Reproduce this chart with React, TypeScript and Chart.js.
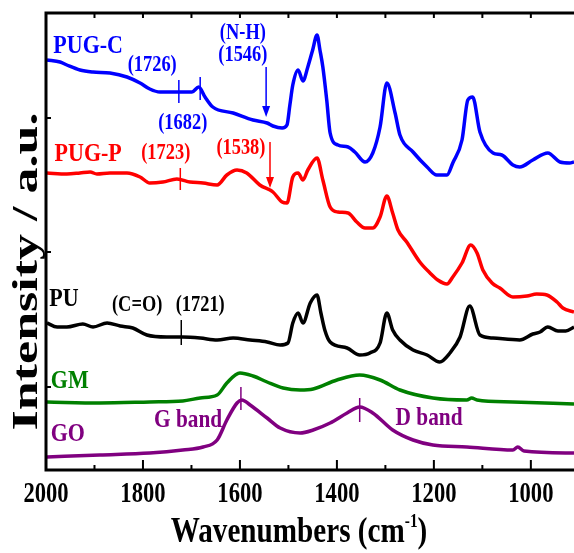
import React, { useEffect, useRef } from 'react';
import { Chart, registerables } from 'chart.js';

Chart.register(...registerables);

// ---- axis ranges & ticks ----
const X_MIN = 911;
const X_MAX = 2000;
const Y_MIN = -1;
const Y_MAX = 456;
const xMajorTicks = [2000, 1800, 1600, 1400, 1200, 1000];
const xMinorTicks = [1900, 1700, 1500, 1300, 1100];
const xTopTicks = [2000, 1900, 1800, 1700, 1600, 1500, 1400, 1300, 1200, 1100, 1000];
const yTicks = [82, 217, 351];

// ---- series (wavenumber, intensity a.u. with offsets) ----
const pugcWn = [1998, 1971, 1957, 1930, 1903, 1868, 1833, 1806, 1786, 1765, 1730, 1699, 1685, 1672, 1656, 1614, 1573, 1544, 1532, 1513, 1503, 1497, 1491, 1480, 1470, 1460, 1450, 1441, 1435, 1429, 1421, 1414, 1398, 1377, 1363, 1342, 1326, 1311, 1297, 1280, 1270, 1243, 1214, 1194, 1173, 1161, 1142, 1130, 1120, 1105, 1078, 1060, 1037, 1023, 996, 965, 940, 920, 911];
const pugcI = [409, 407, 404, 399, 397, 396, 392, 386, 380, 377, 377, 377, 382, 372, 362, 356, 349, 346, 343, 341, 344, 364, 384, 399, 388, 402, 419, 434, 419, 402, 369, 336, 324, 322, 317, 307, 316, 342, 386, 356, 334, 317, 302, 294, 294, 306, 329, 369, 372, 337, 316, 314, 304, 302, 309, 316, 307, 306, 307];

const pugpWn = [1998, 1957, 1930, 1909, 1895, 1868, 1833, 1806, 1786, 1759, 1730, 1703, 1676, 1647, 1627, 1606, 1586, 1559, 1532, 1513, 1503, 1491, 1480, 1470, 1460, 1441, 1429, 1414, 1398, 1377, 1359, 1342, 1326, 1311, 1297, 1285, 1274, 1256, 1229, 1208, 1192, 1173, 1161, 1142, 1124, 1111, 1099, 1080, 1064, 1037, 1008, 988, 967, 946, 934, 911];
const pugpI = [296, 295, 296, 297, 295, 296, 296, 292, 286, 287, 290, 287, 286, 284, 294, 299, 296, 284, 277, 267, 266, 292, 296, 289, 299, 311, 289, 262, 257, 256, 247, 241, 241, 252, 273, 256, 239, 227, 207, 196, 189, 185, 192, 206, 224, 216, 199, 186, 181, 172, 173, 175, 174, 167, 161, 157];

const puWn = [1998, 1977, 1957, 1924, 1903, 1874, 1847, 1821, 1792, 1751, 1718, 1682, 1647, 1614, 1579, 1544, 1517, 1501, 1491, 1480, 1470, 1455, 1441, 1433, 1425, 1414, 1379, 1353, 1332, 1311, 1297, 1285, 1270, 1243, 1214, 1188, 1167, 1146, 1126, 1105, 1078, 1023, 996, 981, 965, 944, 928, 911];
const puI = [146, 142, 142, 145, 142, 146, 143, 141, 134, 132, 132, 131, 129, 131, 129, 127, 124, 126, 146, 156, 146, 166, 174, 156, 139, 127, 121, 114, 116, 126, 156, 139, 129, 119, 114, 107, 116, 132, 163, 134, 131, 129, 135, 137, 142, 138, 138, 142];

const gmWn = [1998, 1889, 1786, 1718, 1682, 1647, 1627, 1600, 1573, 1544, 1511, 1476, 1449, 1400, 1353, 1311, 1270, 1202, 1132, 1122, 1111, 1037, 911];
const gmI = [67, 66, 67, 68, 71, 74, 86, 96, 93, 87, 81, 79, 80, 89, 94, 89, 79, 71, 69, 71, 69, 67, 65];

const goWn = [1998, 1889, 1786, 1718, 1676, 1647, 1627, 1606, 1596, 1579, 1544, 1517, 1476, 1449, 1414, 1379, 1353, 1326, 1285, 1243, 1202, 1132, 1037, 1027, 1014, 911];
const goI = [12, 14, 16, 19, 22, 29, 49, 66, 69, 64, 51, 41, 36, 39, 46, 56, 62, 56, 39, 29, 24, 22, 19, 22, 18, 16];

const BLUE = '#0000ff';
const RED = '#ff0000';
const BLACK = '#000000';
const GREEN = '#008000';
const PURPLE = '#800080';

const seriesDefs = [
  { name: 'PUG-C', wn: pugcWn, vals: pugcI, color: BLUE },
  { name: 'PUG-P', wn: pugpWn, vals: pugpI, color: RED },
  { name: 'PU', wn: puWn, vals: puI, color: BLACK },
  { name: 'GM', wn: gmWn, vals: gmI, color: GREEN },
  { name: 'GO', wn: goWn, vals: goI, color: PURPLE },
];

// ---- annotations (anchored in data coordinates) ----
const annotationTexts = [
  { text: 'PUG-C', wn: 1913, v: 422, color: BLUE, kind: 'series' },
  { text: '(1726)', wn: 1781, v: 404, color: BLUE, kind: 'num' },
  { text: '(1682)', wn: 1718, v: 346, color: BLUE, kind: 'num' },
  { text: '(N-H)', wn: 1594, v: 436, color: BLUE, kind: 'num' },
  { text: '(1546)', wn: 1594, v: 414, color: BLUE, kind: 'num' },
  { text: 'PUG-P', wn: 1913, v: 314, color: RED, kind: 'series' },
  { text: '(1723)', wn: 1753, v: 316, color: RED, kind: 'num' },
  { text: '(1538)', wn: 1598, v: 321, color: RED, kind: 'num' },
  { text: 'PU', wn: 1963, v: 169, color: BLACK, kind: 'series' },
  { text: '(C=O)', wn: 1812, v: 164, color: BLACK, kind: 'num' },
  { text: '(1721)', wn: 1682, v: 164, color: BLACK, kind: 'num' },
  { text: 'GM', wn: 1951, v: 87, color: GREEN, kind: 'series' },
  { text: 'GO', wn: 1955, v: 34, color: PURPLE, kind: 'series' },
  { text: 'G band', wn: 1707, v: 49, color: PURPLE, kind: 'band' },
  { text: 'D band', wn: 1210, v: 51, color: PURPLE, kind: 'band' },
];
const markTicks = [
  { wn: 1726, v1: 389, v2: 366, color: BLUE },
  { wn: 1682, v1: 392, v2: 369, color: BLUE },
  { wn: 1723, v1: 301, v2: 279, color: RED },
  { wn: 1721, v1: 149, v2: 124, color: BLACK },
  { wn: 1598, v1: 82, v2: 59, color: PURPLE },
  { wn: 1353, v1: 71, v2: 47, color: PURPLE },
];
const arrows = [
  { wn: 1546, v1: 402, v2: 352, color: BLUE },
  { wn: 1538, v1: 327, v2: 281, color: RED },
];

const SERIF = '"Liberation Serif", "Times New Roman", Times, serif';
const textStyles: Record<string, { font: string; squish: number }> = {
  series: { font: `bold 25px ${SERIF}`, squish: 0.88 },
  num: { font: `bold 23px ${SERIF}`, squish: 0.8 },
  band: { font: `bold 26px ${SERIF}`, squish: 0.82 },
};

function squishText(ctx: CanvasRenderingContext2D, text: string, x: number, y: number, font: string, color: string, s: number, align: CanvasTextAlign = 'center', baseline: CanvasTextBaseline = 'middle') {
  ctx.save();
  ctx.font = font;
  ctx.fillStyle = color;
  ctx.textAlign = align;
  ctx.textBaseline = baseline;
  ctx.translate(x, y);
  ctx.scale(s, 1);
  ctx.fillText(text, 0, 0);
  ctx.restore();
}

const decorPlugin = {
  id: 'decor',
  afterDatasetsDraw(chart: any) {
    const ctx: CanvasRenderingContext2D = chart.ctx;
    const xs = chart.scales.x;
    const ys = chart.scales.y;
    const { left, right, top, bottom } = chart.chartArea;
    ctx.save();

    // marker ticks on curves
    ctx.lineWidth = 1.5;
    markTicks.forEach((m) => {
      const x = xs.getPixelForValue(m.wn);
      ctx.strokeStyle = m.color;
      ctx.beginPath();
      ctx.moveTo(x, ys.getPixelForValue(m.v1));
      ctx.lineTo(x, ys.getPixelForValue(m.v2));
      ctx.stroke();
    });
    // arrows
    arrows.forEach((a) => {
      const x = xs.getPixelForValue(a.wn);
      const y1 = ys.getPixelForValue(a.v1);
      const y2 = ys.getPixelForValue(a.v2);
      ctx.strokeStyle = a.color;
      ctx.fillStyle = a.color;
      ctx.lineWidth = 1.5;
      ctx.beginPath();
      ctx.moveTo(x, y1);
      ctx.lineTo(x, y2 - 8);
      ctx.stroke();
      ctx.beginPath();
      ctx.moveTo(x - 4, y2 - 11);
      ctx.lineTo(x + 4, y2 - 11);
      ctx.lineTo(x, y2);
      ctx.closePath();
      ctx.fill();
    });
    // annotation texts
    annotationTexts.forEach((t) => {
      const st = textStyles[t.kind];
      squishText(ctx, t.text, xs.getPixelForValue(t.wn), ys.getPixelForValue(t.v), st.font, t.color, st.squish);
    });

    // frame
    ctx.strokeStyle = '#000';
    ctx.lineWidth = 3;
    ctx.beginPath();
    ctx.moveTo(left, top);
    ctx.lineTo(right, top);
    ctx.moveTo(left, top - 1.5);
    ctx.lineTo(left, bottom + 1.5);
    ctx.moveTo(left, bottom);
    ctx.lineTo(right, bottom);
    ctx.stroke();

    ctx.lineWidth = 2;
    ctx.beginPath();
    xMajorTicks.forEach((v) => {
      const x = xs.getPixelForValue(v);
      ctx.moveTo(x, bottom);
      ctx.lineTo(x, bottom - 10);
    });
    xMinorTicks.forEach((v) => {
      const x = xs.getPixelForValue(v);
      ctx.moveTo(x, bottom);
      ctx.lineTo(x, bottom - 5);
    });
    xTopTicks.forEach((v) => {
      const x = xs.getPixelForValue(v);
      ctx.moveTo(x, top);
      ctx.lineTo(x, top + 5);
    });
    yTicks.forEach((v) => {
      const y = ys.getPixelForValue(v);
      ctx.moveTo(left, y);
      ctx.lineTo(left + 5, y);
    });
    ctx.stroke();

    // tick labels
    xMajorTicks.forEach((v) => {
      squishText(ctx, String(v), xs.getPixelForValue(v), bottom + 32, `bold 29px ${SERIF}`, '#000', 0.78, 'center', 'alphabetic');
    });

    // x title with superscript
    const mainFont = `bold 36px ${SERIF}`;
    const supFont = `bold 19px ${SERIF}`;
    const s = 0.81;
    ctx.font = mainFont;
    const w1 = ctx.measureText('Wavenumbers (cm').width;
    const w3 = ctx.measureText(')').width;
    ctx.font = supFont;
    const w2 = ctx.measureText('-1').width;
    const total = (w1 + w2 + w3) * s;
    const cx = (left + 253);
    let x0 = cx - total / 2;
    const base = bottom + 72;
    squishText(ctx, 'Wavenumbers (cm', x0, base, mainFont, '#000', s, 'left', 'alphabetic');
    x0 += w1 * s;
    squishText(ctx, '-1', x0, base - 15, supFont, '#000', s, 'left', 'alphabetic');
    x0 += w2 * s;
    squishText(ctx, ')', x0, base, mainFont, '#000', s, 'left', 'alphabetic');

    // y title
    ctx.save();
    ctx.translate(37, (top + bottom) / 2 + 30);
    ctx.rotate(-Math.PI / 2);
    ctx.scale(1, 0.7);
    ctx.font = `bold 52px ${SERIF}`;
    ctx.fillStyle = '#000';
    ctx.textAlign = 'center';
    ctx.textBaseline = 'alphabetic';
    ctx.fillText('Intensity / a.u.', 0, 0);
    ctx.restore();

    ctx.restore();
  },
};

export default function App() {
  const canvasRef = useRef<HTMLCanvasElement | null>(null);

  useEffect(() => {
    const canvas = canvasRef.current;
    if (!canvas) return;
    const chart = new Chart(canvas, {
      type: 'line',
      data: {
        datasets: seriesDefs.map((sd) => ({
          label: sd.name,
          data: sd.wn.map((w, i) => ({ x: w, y: sd.vals[i] })),
          borderColor: sd.color,
          backgroundColor: sd.color,
          borderWidth: 3.5,
          pointRadius: 0,
          fill: false,
          cubicInterpolationMode: 'monotone' as const,
        })),
      },
      options: {
        responsive: false,
        animation: false,
        devicePixelRatio: 1,
        layout: { padding: { left: 46, right: 0, top: 13, bottom: 83 } },
        plugins: {
          legend: { display: false },
          tooltip: { enabled: false },
          title: { display: false },
        },
        scales: {
          x: { type: 'linear', min: X_MIN, max: X_MAX, reverse: true, display: false },
          y: { type: 'linear', min: Y_MIN, max: Y_MAX, display: false },
        },
      },
      plugins: [decorPlugin],
    });
    return () => chart.destroy();
  }, []);

  return (
    <div style={{ position: 'absolute', left: 0, top: 0, width: 574, height: 553, background: '#fff' }}>
      <canvas ref={canvasRef} width={574} height={553} style={{ width: 574, height: 553, display: 'block' }} />
    </div>
  );
}
